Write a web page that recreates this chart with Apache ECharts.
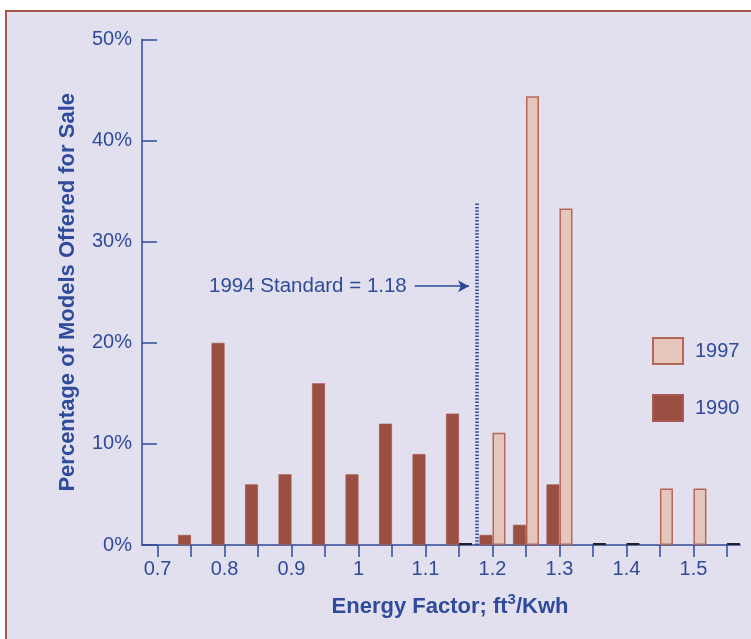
<!DOCTYPE html>
<html>
<head>
<meta charset="utf-8">
<script src="https://cdn.jsdelivr.net/npm/echarts@6/dist/echarts.min.js"></script>
<style>
  html, body { margin: 0; padding: 0; background: #ffffff; width: 751px; height: 639px; overflow: hidden; }
  #frame { position: absolute; left: 5px; top: 10px; width: 800px; height: 700px; border: 2px solid #a3554a; background: #e2e0ee; box-sizing: border-box; }
  #chart { position: absolute; left: 0; top: 0; width: 751px; height: 639px; }
</style>
</head>
<body>
<div id="frame"></div>
<div id="chart"></div>
<script>
// Energy factor bins (ft3/kWh)
const energyFactor = [0.75, 0.8, 0.85, 0.9, 0.95, 1.0, 1.05, 1.1, 1.15, 1.2, 1.25, 1.3, 1.35, 1.4, 1.45, 1.5, 1.55];
// Percentage of models offered for sale
const share1990 = [1, 20, 6, 7, 16, 7, 12, 9, 13, 1, 2, 6, null, null, null, null, null];
const share1997 = [null, null, null, null, null, null, null, null, 0, 11.1, 44.4, 33.3, 0, 0, 5.6, 5.6, 0];
// Axis ticks and labels
const xTickValues = [0.7, 0.75, 0.8, 0.85, 0.9, 0.95, 1.0, 1.05, 1.1, 1.15, 1.2, 1.25, 1.3, 1.35, 1.4, 1.45, 1.5, 1.55];
const xLabelValues = [0.7, 0.8, 0.9, 1.0, 1.1, 1.2, 1.3, 1.4, 1.5];
const yTickValues = [0, 10, 20, 30, 40, 50];
// Annotation (line drawn where it sits in the picture, just left of the 1.2 bar)
const standardLinePos = 1.176;
const standardLineTop = 33.8;
const standardLabel = '1994 Standard = 1.18';
const arrowFrom = [1.084, 25.6];
const arrowTo = [1.165, 25.6];

const blue = '#2d4a9a';
const textBlue = '#2f4b9b';
const font = 'Liberation Sans, Arial, Helvetica, sans-serif';

const chart = echarts.init(document.getElementById('chart'), null, { renderer: 'canvas' });

const data1990 = energyFactor.map((x, i) => share1990[i] == null ? null : [x, share1990[i]]).filter(d => d);
const data1997 = energyFactor.map((x, i) => {
  const v = share1997[i];
  if (v == null) return null;
  if (v === 0) return { value: [x, v], itemStyle: { color: '#222222', borderColor: '#222222', borderWidth: 0 } };
  return [x, v];
}).filter(d => d);

chart.setOption({
  backgroundColor: 'transparent',
  animation: false,
  textStyle: { fontFamily: font },
  grid: { left: 142, right: 11, top: 39.6, bottom: 94 },
  legend: {
    orient: 'vertical',
    left: 652,
    top: 337,
    padding: 0,
    icon: 'rect',
    itemWidth: 30,
    itemHeight: 26,
    itemGap: 29,
    data: ['1997', '1990'],
    textStyle: { color: textBlue, fontSize: 20, fontFamily: font, padding: [0, 0, 0, 7] }
  },
  xAxis: {
    type: 'value',
    min: 0.6768,
    max: 1.5695,
    name: '{a|Energy Factor; ft}{s|3}{a|/Kwh}',
    nameLocation: 'middle',
    nameGap: 47,
    nameTextStyle: {
      padding: [0, 0, 0, 18],
      rich: {
        a: { fontSize: 22, fontWeight: 'bold', color: textBlue, fontFamily: font, verticalAlign: 'bottom' },
        s: { fontSize: 15, fontWeight: 'bold', color: textBlue, fontFamily: font, verticalAlign: 'top', padding: [0, 0, 11, 0] }
      }
    },
    axisLine: { show: true, onZero: false, lineStyle: { color: blue, width: 1.5 } },
    axisTick: { show: true, inside: false, length: 12, customValues: xTickValues, lineStyle: { color: blue, width: 1.5 } },
    axisLabel: {
      customValues: xLabelValues,
      color: textBlue, fontSize: 20, fontFamily: font, margin: 14,
      formatter: v => String(Math.round(v * 10) / 10)
    },
    splitLine: { show: false }
  },
  yAxis: {
    type: 'value',
    min: 0,
    max: 50,
    interval: 10,
    name: 'Percentage of Models Offered for Sale',
    nameLocation: 'middle',
    nameGap: 63,
    nameTextStyle: { color: textBlue, fontSize: 22, fontWeight: 'bold', fontFamily: font },
    axisLine: { show: true, lineStyle: { color: blue, width: 1.5 } },
    axisTick: { show: true, inside: true, length: 15, customValues: yTickValues, lineStyle: { color: blue, width: 1.5 } },
    axisLabel: { color: textBlue, fontSize: 20, fontFamily: font, margin: 10, formatter: '{value}%' },
    splitLine: { show: false }
  },
  series: [
    {
      name: '1990',
      type: 'bar',
      barWidth: 13,
      barGap: '0%',
      data: data1990,
      itemStyle: { color: '#9b4f43', borderColor: '#a45a4e', borderWidth: 0.8 },
      z: 3
    },
    {
      name: '1997',
      type: 'bar',
      barWidth: 13,
      barGap: '0%',
      barMinHeight: 2,
      data: data1997,
      itemStyle: { color: '#e4c6ba', borderColor: '#b5675a', borderWidth: 1.5 },
      z: 3
    },
    {
      name: 'annotation',
      type: 'line',
      data: [],
      silent: true,
      z: 5,
      markLine: {
        silent: true,
        animation: false,
        symbol: ['none', 'none'],
        data: [
          [
            { coord: [standardLinePos, 0], lineStyle: { color: blue, width: 3.5, type: [1.5, 1.8] }, label: { show: false } },
            { coord: [standardLinePos, standardLineTop] }
          ],
          [
            { coord: arrowFrom, symbol: 'none', lineStyle: { color: blue, width: 1.6, type: 'solid' },
              label: { show: true, position: 'start', formatter: standardLabel, color: textBlue, fontSize: 20.5, fontFamily: font, distance: 8 } },
            { coord: arrowTo, symbol: 'arrow', symbolSize: [9, 11] }
          ]
        ]
      }
    }
  ]
});
</script>
</body>
</html>
